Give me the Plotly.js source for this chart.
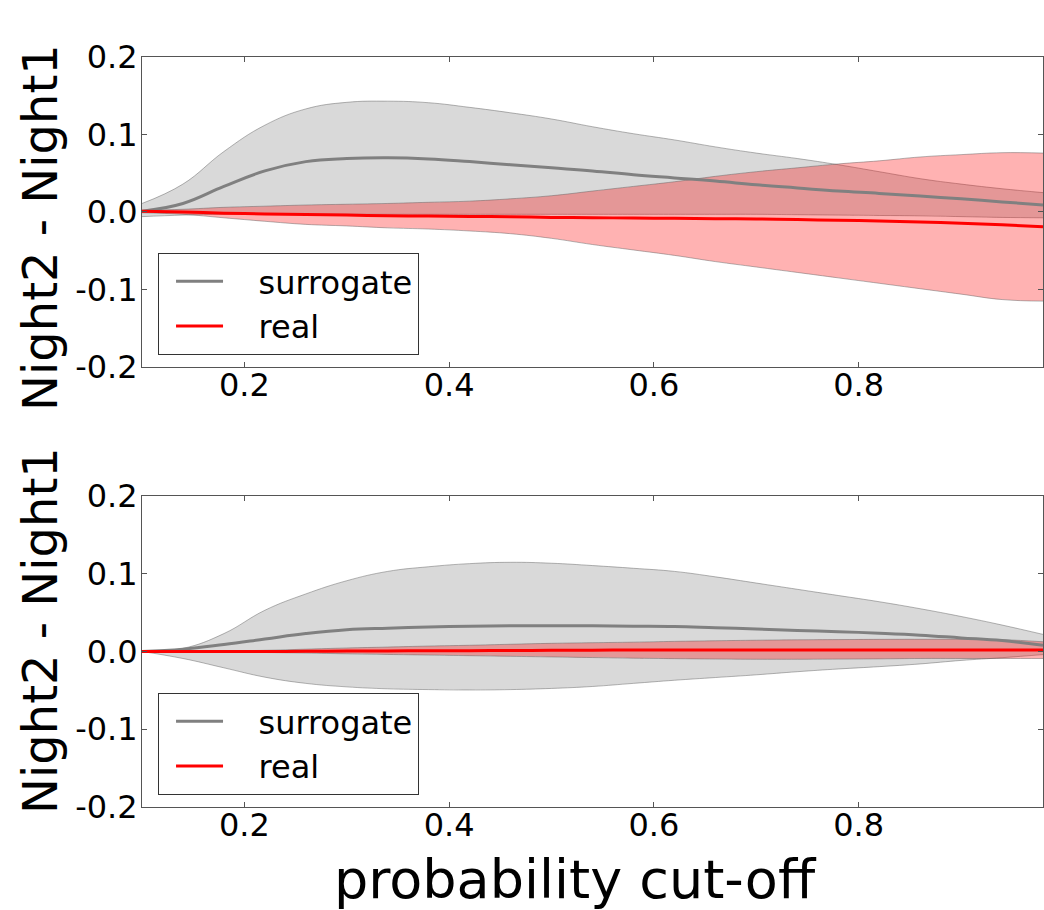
<!DOCTYPE html>
<html>
<head>
<meta charset="utf-8">
<script src="https://cdn.plot.ly/plotly-3.0.1.min.js"></script>
<style>html,body{margin:0;padding:0;background:#fff;}#chart{width:1044px;height:910px;}</style>
</head>
<body>
<div id="chart"></div>
<script>
// probability cut-off grid
const cutoff = [0.10, 0.14, 0.18, 0.22, 0.26, 0.30, 0.34, 0.38, 0.42, 0.46, 0.50, 0.54, 0.58, 0.62, 0.66, 0.70, 0.74, 0.78, 0.82, 0.86, 0.90, 0.94, 0.98];

// Top panel
const surr1   = [0.001, 0.011, 0.033, 0.053, 0.065, 0.069, 0.070, 0.0685, 0.065, 0.061, 0.057, 0.053, 0.048, 0.044, 0.040, 0.035, 0.031, 0.027, 0.024, 0.0205, 0.017, 0.013, 0.009];
const surrHi1 = [0.011, 0.036, 0.078, 0.112, 0.133, 0.1415, 0.143, 0.141, 0.135, 0.128, 0.120, 0.110, 0.101, 0.093, 0.084, 0.076, 0.069, 0.061, 0.052, 0.043, 0.036, 0.030, 0.025];
const surrLo1 = [-0.006, -0.004, -0.003, -0.003, -0.003, -0.003, -0.003, -0.003, -0.003, -0.003, -0.003, -0.003, -0.003, -0.003, -0.003, -0.003, -0.0035, -0.004, -0.0045, -0.005, -0.006, -0.007, -0.0075];
const real1   = [0.001, 0.000, -0.0015, -0.0025, -0.0033, -0.004, -0.0048, -0.0053, -0.0058, -0.0062, -0.007, -0.0074, -0.0078, -0.0082, -0.0086, -0.009, -0.0098, -0.0106, -0.0115, -0.013, -0.0145, -0.0165, -0.019];
const realHi1 = [0.002, 0.0035, 0.006, 0.0075, 0.009, 0.010, 0.011, 0.0125, 0.014, 0.017, 0.021, 0.027, 0.033, 0.039, 0.046, 0.052, 0.057, 0.062, 0.066, 0.071, 0.074, 0.0765, 0.076];
const realLo1 = [-0.001, -0.003, -0.0075, -0.012, -0.016, -0.018, -0.0205, -0.022, -0.0245, -0.028, -0.034, -0.042, -0.049, -0.056, -0.064, -0.071, -0.078, -0.085, -0.092, -0.099, -0.106, -0.113, -0.115];

// Bottom panel
const surr2   = [0.000, 0.003, 0.009, 0.016, 0.023, 0.028, 0.030, 0.0315, 0.0325, 0.033, 0.033, 0.033, 0.0325, 0.032, 0.0305, 0.029, 0.027, 0.0255, 0.0235, 0.021, 0.0175, 0.014, 0.008];
const surrHi2 = [0.000, 0.004, 0.023, 0.053, 0.074, 0.091, 0.103, 0.109, 0.113, 0.1147, 0.1135, 0.1105, 0.107, 0.103, 0.096, 0.088, 0.080, 0.072, 0.064, 0.055, 0.045, 0.034, 0.022];
const surrLo2 = [0.000, -0.009, -0.021, -0.033, -0.041, -0.0455, -0.048, -0.049, -0.0495, -0.049, -0.0475, -0.045, -0.041, -0.037, -0.0335, -0.030, -0.026, -0.0225, -0.0195, -0.016, -0.0115, -0.008, -0.004];
const real2   = [0.000, 0.000, 0.000, 0.000, 0.0002, 0.0005, 0.0007, 0.0009, 0.001, 0.0013, 0.0015, 0.0017, 0.0019, 0.002, 0.002, 0.002, 0.002, 0.002, 0.002, 0.002, 0.002, 0.002, 0.002];
const realHi2 = [0.000, 0.0002, 0.0008, 0.0015, 0.003, 0.0045, 0.0057, 0.007, 0.008, 0.0093, 0.0105, 0.0113, 0.012, 0.013, 0.0138, 0.0145, 0.015, 0.0153, 0.0156, 0.0157, 0.0157, 0.0152, 0.0125];
const realLo2 = [0.000, -0.0002, -0.0008, -0.0013, -0.002, -0.003, -0.0038, -0.0046, -0.0054, -0.0062, -0.007, -0.0078, -0.0086, -0.0092, -0.0097, -0.010, -0.010, -0.0098, -0.0095, -0.009, -0.009, -0.009, -0.009];

const seriesNames = ['surrogate', 'real'];
const xTickVals = [0.2, 0.4, 0.6, 0.8];
const xTickText = ['0.2', '0.4', '0.6', '0.8'];
const yTickVals = [-0.2, -0.1, 0.0, 0.1, 0.2];
const yTickText = ['-0.2', '-0.1', '0.0', '0.1', '0.2'];
const yLabel = 'Night2 - Night1';
const xLabel = 'probability cut-off';

const FONT = 'DejaVu Sans, Liberation Sans, sans-serif';
const GRAY = 'rgb(128,128,128)';
const RED = 'rgb(255,0,0)';
const GRAY_FILL = 'rgba(128,128,128,0.3)';
const RED_FILL = 'rgba(255,0,0,0.3)';
const EDGE = 'rgba(90,90,90,0.45)';
const SMOOTH = 1.2;
const LEGEND_PAD = '\u00a0\u00a0\u00a0'; // gap between legend line sample and label

function band(x, lo, hi, fill, xa, ya) {
  const edge = {color: EDGE, width: 1, shape: 'spline', smoothing: SMOOTH};
  return [
    {x: x, y: lo, xaxis: xa, yaxis: ya, type: 'scatter', mode: 'lines',
     line: edge, showlegend: false, hoverinfo: 'skip'},
    {x: x, y: hi, xaxis: xa, yaxis: ya, type: 'scatter', mode: 'lines',
     fill: 'tonexty', fillcolor: fill, line: edge, showlegend: false, hoverinfo: 'skip'}
  ];
}
function line(x, y, color, name, xa, ya, leg) {
  return {
    x: x, y: y, xaxis: xa, yaxis: ya, name: LEGEND_PAD + name, legend: leg, legendgroup: leg + name,
    type: 'scatter', mode: 'lines',
    line: {color: color, width: 3, shape: 'spline', smoothing: SMOOTH}
  };
}

const data = [].concat(
  band(cutoff, surrLo1, surrHi1, GRAY_FILL, 'x', 'y'),
  band(cutoff, realLo1, realHi1, RED_FILL, 'x', 'y'),
  [line(cutoff, surr1, GRAY, seriesNames[0], 'x', 'y', 'legend'),
   line(cutoff, real1, RED, seriesNames[1], 'x', 'y', 'legend')],
  band(cutoff, surrLo2, surrHi2, GRAY_FILL, 'x2', 'y2'),
  band(cutoff, realLo2, realHi2, RED_FILL, 'x2', 'y2'),
  [line(cutoff, surr2, GRAY, seriesNames[0], 'x2', 'y2', 'legend2'),
   line(cutoff, real2, RED, seriesNames[1], 'x2', 'y2', 'legend2')]
);

function xaxis(anchor) {
  return {
    anchor: anchor, domain: [0, 1], range: [0.1, 0.98],
    tickmode: 'array', tickvals: xTickVals, ticktext: xTickText,
    ticks: 'inside', ticklen: 5, tickcolor: '#555', tickwidth: 1,
    ticklabelstandoff: -10,
    showline: true, linecolor: '#555', linewidth: 1, mirror: 'ticks',
    showgrid: false, zeroline: false,
    tickfont: {family: FONT, size: 32, color: '#000'}
  };
}
function yaxis(anchor, dom) {
  return {
    anchor: anchor, domain: dom, range: [-0.2, 0.2],
    tickmode: 'array', tickvals: yTickVals, ticktext: yTickText,
    ticks: 'inside', ticklen: 5, tickcolor: '#555', tickwidth: 1,
    ticklabelstandoff: -3,
    showline: true, linecolor: '#555', linewidth: 1, mirror: 'ticks',
    showgrid: false, zeroline: false,
    tickfont: {family: FONT, size: 32, color: '#000'}
  };
}
function legend(y) {
  return {
    x: 0.0178, y: y, xanchor: 'left', yanchor: 'top',
    bgcolor: '#fff', bordercolor: '#333', borderwidth: 1,
    font: {family: FONT, size: 32, color: '#000'},
    itemwidth: 47, indentation: 12,
    tracegroupgap: 0, traceorder: 'grouped'
  };
}

const layout = {
  width: 1044, height: 910,
  margin: {l: 142, r: 1, t: 57, b: 103},
  paper_bgcolor: '#fff', plot_bgcolor: '#fff',
  font: {family: FONT, color: '#000'},
  xaxis: xaxis('y'),
  yaxis: yaxis('x', [0.5867, 1]),
  xaxis2: xaxis('y2'),
  yaxis2: yaxis('x2', [0, 0.4147]),
  legend: legend(0.7387),
  legend2: legend(0.152),
  annotations: [
    {text: yLabel, xref: 'paper', yref: 'paper', x: -0.1132, y: 0.772, xanchor: 'center', yanchor: 'middle',
     textangle: -90, showarrow: false, font: {family: FONT, size: 48, color: '#000'}},
    {text: yLabel, xref: 'paper', yref: 'paper', x: -0.1132, y: 0.2347, xanchor: 'center', yanchor: 'middle',
     textangle: -90, showarrow: false, font: {family: FONT, size: 48, color: '#000'}},
    {text: xLabel, xref: 'paper', yref: 'paper', x: 0.4806, y: -0.0973, xanchor: 'center', yanchor: 'middle',
     showarrow: false, font: {family: FONT, size: 54, color: '#000'}}
  ],
  showlegend: true
};

Plotly.newPlot('chart', data, layout, {staticPlot: true, displayModeBar: false});
</script>
</body>
</html>
